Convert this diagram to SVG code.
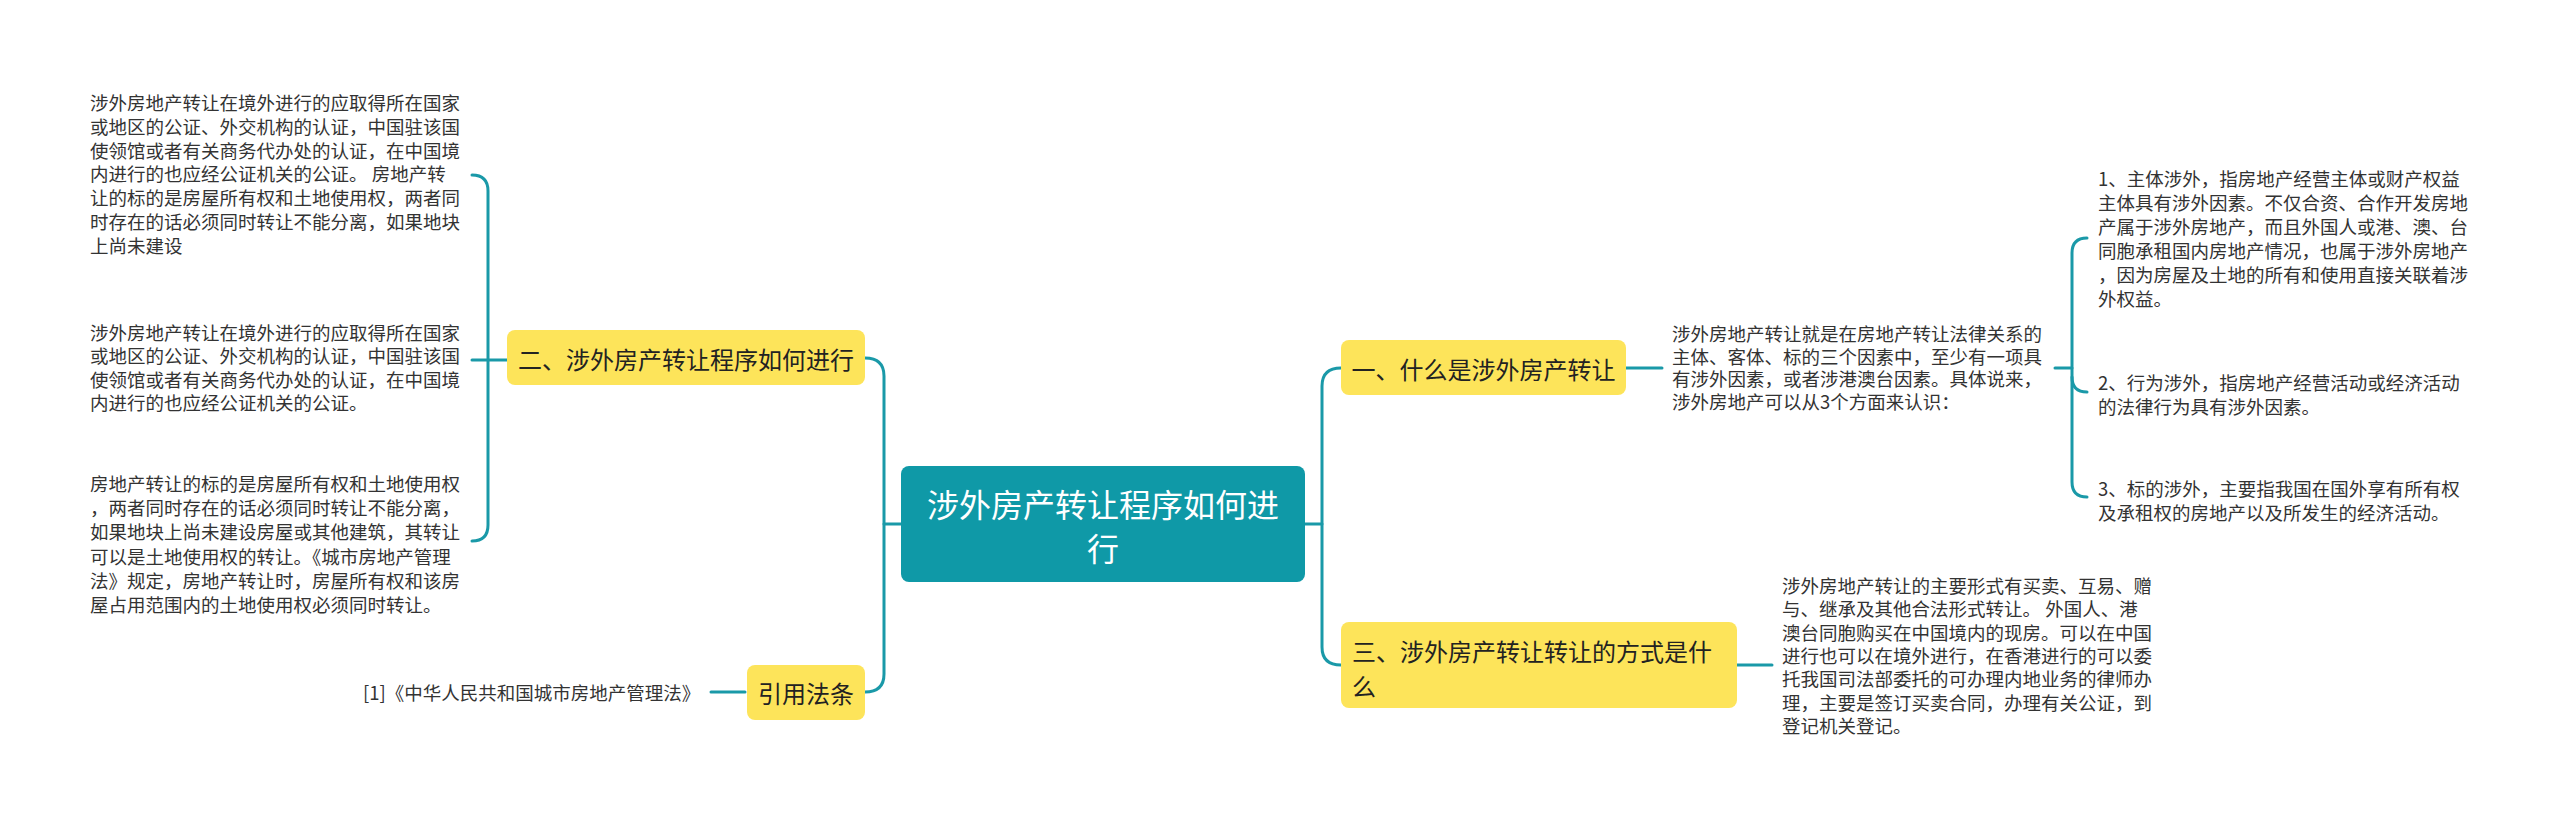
<svg xmlns="http://www.w3.org/2000/svg" width="2560" height="838" viewBox="0 0 2560 838">
<style>
.bg{fill:#ffffff}
.conn{fill:none;stroke:#1a99a8;stroke-width:3;stroke-linecap:round}
.yel{fill:#fde45a}
.root{fill:#0f99a7}
.t{font-family:"Noto Sans CJK SC","Microsoft YaHei",sans-serif;dominant-baseline:central}
.leaf{font-size:18.5px;fill:#333333}
.lvl1{font-size:24px;fill:#222222}
.rt{font-size:32px;fill:#ffffff}
</style>
<rect class="bg" x="0" y="0" width="2560" height="838"/>
<g id="connectors">
  <path class="conn" d="M1305,524 H1322"/>
  <path class="conn" d="M1341,368 Q1322,368 1322,386 V647 Q1322,665 1341,665"/>
  <path class="conn" d="M901,524 H884"/>
  <path class="conn" d="M865,358 Q884,358 884,376 V674 Q884,692 865,692"/>
  <path class="conn" d="M507,360 H472"/>
  <path class="conn" d="M472,175 Q488,175 488,191 V525 Q488,541 472,541"/>
  <path class="conn" d="M745,692 H711"/>
  <path class="conn" d="M1626,368 H1662"/>
  <path class="conn" d="M2055,368 H2072"/>
  <path class="conn" d="M2087,238 Q2072,238 2072,253 V482 Q2072,497 2087,497"/>
  <path class="conn" d="M2072,377 Q2072,392 2087,392"/>
  <path class="conn" d="M1737,665 H1772"/>
</g>
<g id="root">
  <rect class="root" x="901" y="466" width="404" height="116" rx="8"/>
  <text class="t rt" text-anchor="middle"><tspan x="1103" y="503">涉外房产转让程序如何进</tspan><tspan x="1103" y="547">行</tspan></text>
</g>
<g id="node-yi">
  <rect class="yel" x="1341" y="340" width="285" height="55" rx="8"/>
  <text class="t lvl1" x="1483.5" y="368" text-anchor="middle">一、什么是涉外房产转让</text>
</g>
<g id="node-san">
  <rect class="yel" x="1341" y="622" width="396" height="86" rx="8"/>
  <text class="t lvl1"><tspan x="1352" y="650">三、涉外房产转让转让的方式是什</tspan><tspan x="1352" y="685">么</tspan></text>
</g>
<g id="node-er">
  <rect class="yel" x="507" y="330" width="358" height="55" rx="8"/>
  <text class="t lvl1" x="686" y="358" text-anchor="middle">二、涉外房产转让程序如何进行</text>
</g>
<g id="node-cite">
  <rect class="yel" x="747" y="665" width="118" height="55" rx="8"/>
  <text class="t lvl1" x="806" y="692" text-anchor="middle">引用法条</text>
</g>
<g id="leaf-er-1">
  <text class="t leaf"><tspan x="90" y="102">涉外房地产转让在境外进行的应取得所在国家</tspan><tspan x="90" y="125.8">或地区的公证、外交机构的认证，中国驻该国</tspan><tspan x="90" y="149.6">使领馆或者有关商务代办处的认证，在中国境</tspan><tspan x="90" y="173.4">内进行的也应经公证机关的公证。 房地产转</tspan><tspan x="90" y="197.2">让的标的是房屋所有权和土地使用权，两者同</tspan><tspan x="90" y="221">时存在的话必须同时转让不能分离，如果地块</tspan><tspan x="90" y="244.8">上尚未建设</tspan></text>
</g>
<g id="leaf-er-2">
  <text class="t leaf"><tspan x="90" y="332">涉外房地产转让在境外进行的应取得所在国家</tspan><tspan x="90" y="355.3">或地区的公证、外交机构的认证，中国驻该国</tspan><tspan x="90" y="378.6">使领馆或者有关商务代办处的认证，在中国境</tspan><tspan x="90" y="402">内进行的也应经公证机关的公证。</tspan></text>
</g>
<g id="leaf-er-3">
  <text class="t leaf"><tspan x="90" y="483">房地产转让的标的是房屋所有权和土地使用权</tspan><tspan x="90" y="507.2">，两者同时存在的话必须同时转让不能分离，</tspan><tspan x="90" y="531.4">如果地块上尚未建设房屋或其他建筑，其转让</tspan><tspan x="90" y="555.6">可以是土地使用权的转让。《城市房地产管理</tspan><tspan x="90" y="579.8">法》规定，房地产转让时，房屋所有权和该房</tspan><tspan x="90" y="604">屋占用范围内的土地使用权必须同时转让。</tspan></text>
</g>
<g id="leaf-cite">
  <text class="t leaf" x="363" y="692">[1]《中华人民共和国城市房地产管理法》</text>
</g>
<g id="leaf-yi">
  <text class="t leaf"><tspan x="1672" y="333">涉外房地产转让就是在房地产转让法律关系的</tspan><tspan x="1672" y="355.5">主体、客体、标的三个因素中，至少有一项具</tspan><tspan x="1672" y="378">有涉外因素，或者涉港澳台因素。具体说来，</tspan><tspan x="1672" y="400.5">涉外房地产可以从3个方面来认识：</tspan></text>
</g>
<g id="leaf-yi-1">
  <text class="t leaf"><tspan x="2098" y="178">1、主体涉外，指房地产经营主体或财产权益</tspan><tspan x="2098" y="202">主体具有涉外因素。不仅合资、合作开发房地</tspan><tspan x="2098" y="226">产属于涉外房地产，而且外国人或港、澳、台</tspan><tspan x="2098" y="250">同胞承租国内房地产情况，也属于涉外房地产</tspan><tspan x="2098" y="274">，因为房屋及土地的所有和使用直接关联着涉</tspan><tspan x="2098" y="298">外权益。</tspan></text>
</g>
<g id="leaf-yi-2">
  <text class="t leaf"><tspan x="2098" y="382">2、行为涉外，指房地产经营活动或经济活动</tspan><tspan x="2098" y="405.5">的法律行为具有涉外因素。</tspan></text>
</g>
<g id="leaf-yi-3">
  <text class="t leaf"><tspan x="2098" y="488">3、标的涉外，主要指我国在国外享有所有权</tspan><tspan x="2098" y="511.5">及承租权的房地产以及所发生的经济活动。</tspan></text>
</g>
<g id="leaf-san">
  <text class="t leaf"><tspan x="1782" y="585">涉外房地产转让的主要形式有买卖、互易、赠</tspan><tspan x="1782" y="608.3">与、继承及其他合法形式转让。 外国人、港</tspan><tspan x="1782" y="631.6">澳台同胞购买在中国境内的现房。可以在中国</tspan><tspan x="1782" y="654.9">进行也可以在境外进行，在香港进行的可以委</tspan><tspan x="1782" y="678.2">托我国司法部委托的可办理内地业务的律师办</tspan><tspan x="1782" y="701.5">理，主要是签订买卖合同，办理有关公证，到</tspan><tspan x="1782" y="724.8">登记机关登记。</tspan></text>
</g>
</svg>
